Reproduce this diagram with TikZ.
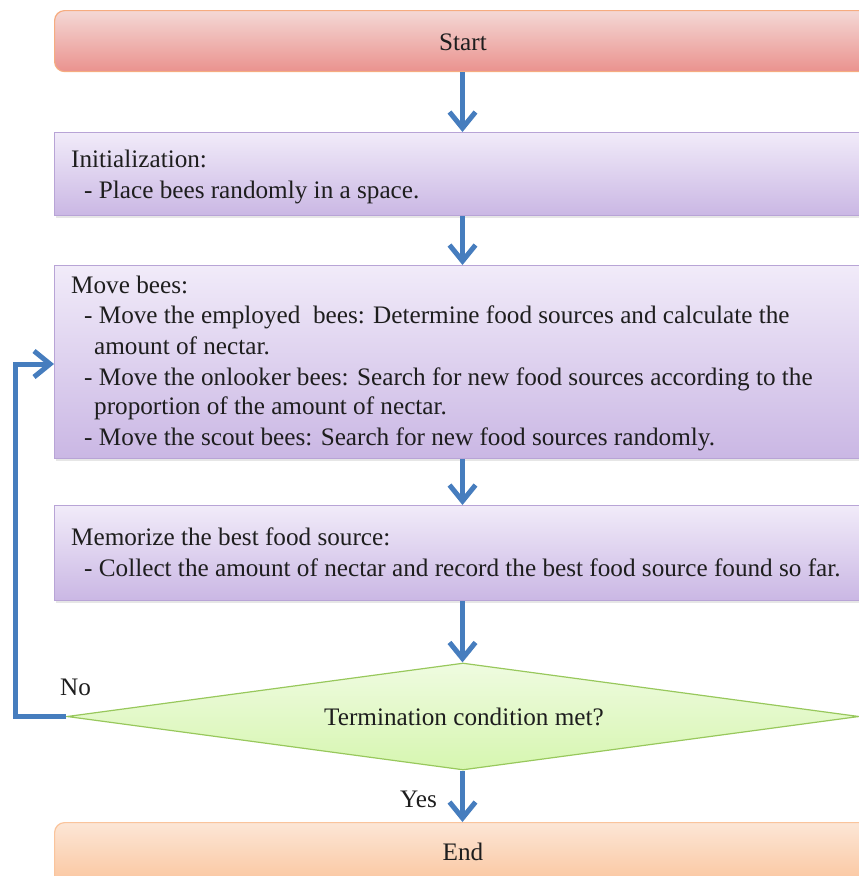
\documentclass[tikz,border=0pt]{standalone}
\usepackage{fontspec}
\setmainfont{Liberation Serif}
\usetikzlibrary{arrows.meta,shapes.geometric,shadows}

% palette
\definecolor{flowblue}{RGB}{70,125,190}
\definecolor{txtgray}{RGB}{30,30,30}
\definecolor{starttop}{RGB}{244,216,213}
\definecolor{startbot}{RGB}{234,146,142}
\definecolor{startline}{RGB}{246,172,128}
\definecolor{purptop}{RGB}{241,235,249}
\definecolor{purpbot}{RGB}{202,183,228}
\definecolor{purpline}{RGB}{184,164,214}
\definecolor{greentop}{RGB}{239,251,224}
\definecolor{greenbot}{RGB}{214,246,176}
\definecolor{greenline}{RGB}{152,200,92}
\definecolor{endtop}{RGB}{252,230,214}
\definecolor{endbot}{RGB}{250,188,142}
\definecolor{endline}{RGB}{250,196,156}

\tikzset{
  termbox/.style={rectangle, rounded corners=10pt, line width=1.2pt,
    minimum width=840pt, anchor=north west, inner sep=0pt},
  startbox/.style={termbox, draw=startline, top color=starttop, bottom color=startbot},
  endbox/.style={termbox, draw=endline, top color=endtop, bottom color=endbot},
  stepbox/.style={rectangle, draw=purpline, line width=1.2pt,
    top color=purptop, bottom color=purpbot,
    drop shadow={shadow xshift=1pt, shadow yshift=-2pt, opacity=0.2},
    minimum width=840pt, anchor=north west, inner sep=0pt},
  decision/.style={diamond, draw=greenline, line width=1.2pt,
    top color=greentop, bottom color=greenbot, aspect=7.4,
    minimum width=792pt, minimum height=107pt, inner sep=0pt},
  line/.style={font=\fontsize{25.2}{30}\selectfont, text=txtgray,
    inner sep=0pt, anchor=base west},
  label/.style={line, anchor=base},
  flow/.style={draw=flowblue, line width=5pt,
    -{Straight Barb[length=16pt, width=26pt, line width=5pt]}}
}

\begin{document}
\begin{tikzpicture}[x=1pt, y=-1pt]
\useasboundingbox (0,0) rectangle (859,876);
\clip (0,0) rectangle (859,876);

\coordinate (axis) at (462.5,0);
\coordinate (ret) at (15.5,364);

% boxes
\node[startbox, minimum height=61pt] (start) at (54,10) {};
\node[stepbox, minimum height=83pt] (init) at (54,132) {};
\node[stepbox, minimum height=193pt] (move) at (54,265) {};
\node[stepbox, minimum height=95pt] (mem) at (54,505) {};
\node[decision] (dec) at (463,716.5) {};
\node[endbox, minimum height=80pt] (end) at (54,822) {};

% texts
\node[label] (start-t) at (463,50) {Start};

\node[line] (init-1) at (71,167) {Initialization:};
\node[line] (init-2) at (84,198) {- Place bees randomly in a space.};

\node[line] (move-1) at (71,293) {Move bees:};
\node[line] (move-2) at (84,323) {- Move the employed\ \ bees: Determine food sources and calculate the};
\node[line] (move-3) at (94,354) {amount of nectar.};
\node[line] (move-4) at (84,385) {- Move the onlooker bees: Search for new food sources according to the};
\node[line] (move-5) at (94,414) {proportion of the amount of nectar.};
\node[line] (move-6) at (84,445) {- Move the scout bees: Search for new food sources randomly.};

\node[line] (mem-1) at (71,545) {Memorize the best food source:};
\node[line] (mem-2) at (84,576) {- Collect the amount of nectar and record the best food source found so far.};

\node[label] (dec-t) at (464,725) {Termination condition met?};
\node[label] (end-t) at (463,860) {End};

\node[line] (no) at (60,695) {No};
\node[line] (yes) at (400,807) {Yes};

% connectors
\draw[flow] (start.south -| axis) -- (init.north -| axis);
\draw[flow] (init.south -| axis) -- (move.north -| axis);
\draw[flow] (move.south -| axis) -- (mem.north -| axis);
\draw[flow] (mem.south -| axis) -- (dec.north -| axis);
\draw[flow] (dec.south -| axis) -- (end.north -| axis);
\draw[flow] (dec.west) -| (ret) -- (move.west |- ret);
\end{tikzpicture}
\end{document}
